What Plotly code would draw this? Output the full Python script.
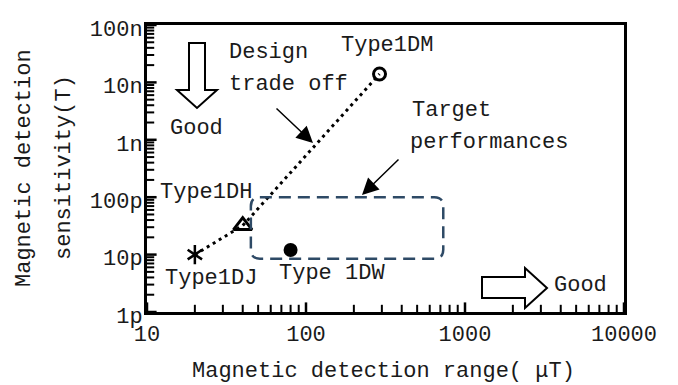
import math
import plotly.graph_objects as go

# Device performance: detection range (µT) vs. detection sensitivity (T)
device_names = ["Type1DJ", "Type1DH", "Type 1DW", "Type1DM"]
detection_range_uT = [20, 40, 80, 290]
sensitivity_T = [1.0e-11, 3.2e-11, 1.2e-11, 1.4e-8]

# Design trade-off curve through the 1DJ / 1DH / 1DM designs
tradeoff_range_uT = [20, 40, 290]
tradeoff_sens_T = [1.0e-11, 3.2e-11, 1.4e-8]

# Target performance window
target_range_uT = [45, 730]
target_sens_T = [8.5e-12, 1.0e-10]

x_tickvals = [10, 100, 1000, 10000]
x_ticktext = ["10", "100", "1000", "10000"]
y_tickvals = [1e-12, 1e-11, 1e-10, 1e-9, 1e-8, 1e-7]
y_ticktext = ["1p", "10p", "100p", "1n", "10n", "100n"]

FONT = "Liberation Mono"
FS = 22
W, H = 678, 385
ML, MR, MT, MB = 147, 54, 25, 73
PW, PH = W - ML - MR, H - MT - MB
X_RANGE = [1, 4]
Y_RANGE = [-12, -7]
X_DEC_PX = PW / (X_RANGE[1] - X_RANGE[0])
Y_DEC_PX = PH / (Y_RANGE[1] - Y_RANGE[0])


def px(x):
    """pixel column -> paper x"""
    return (x - ML) / PW


def py(y):
    """pixel row -> paper y"""
    return (H - MB - y) / PH


def data_px(v):
    return ML + (math.log10(v) - X_RANGE[0]) * X_DEC_PX


def data_py(v):
    return MT + (Y_RANGE[1] - math.log10(v)) * Y_DEC_PX


def minor_logticks(majors):
    # 2..9 times each decade below the last major tick
    return [m * k for m in majors[:-1] for k in range(2, 10)]


def poly_path(points):
    return "M " + " L ".join(f"{px(a):.5f},{py(b):.5f}" for a, b in points) + " Z"


def rounded_rect_path(x0, y0, x1, y1, r):
    # pixel box -> paper path with quadratic rounded corners
    def P(a, b):
        return f"{px(a):.5f},{py(b):.5f}"
    return (
        f"M {P(x0 + r, y0)} L {P(x1 - r, y0)} Q {P(x1, y0)} {P(x1, y0 + r)} "
        f"L {P(x1, y1 - r)} Q {P(x1, y1)} {P(x1 - r, y1)} "
        f"L {P(x0 + r, y1)} Q {P(x0, y1)} {P(x0, y1 - r)} "
        f"L {P(x0, y0 + r)} Q {P(x0, y0)} {P(x0 + r, y0)} Z"
    )


fig = go.Figure()

# inward tick marks as short line markers sitting just inside the axes
x_base = 10 ** X_RANGE[0]
y_base = 10 ** Y_RANGE[0]
for vals, length, width in [(x_tickvals, 8, 2.5), (minor_logticks(x_tickvals), 6, 2)]:
    fig.add_trace(go.Scatter(
        x=vals, y=[y_base * 10 ** (length / 2 / Y_DEC_PX)] * len(vals),
        mode="markers", hoverinfo="skip", showlegend=False, cliponaxis=False,
        marker=dict(symbol="line-ns-open", size=length, color="black",
                    line=dict(color="black", width=width)),
    ))
for vals, length, width in [(y_tickvals, 8, 2.5), (minor_logticks(y_tickvals), 6, 2)]:
    fig.add_trace(go.Scatter(
        x=[x_base * 10 ** (length / 2 / X_DEC_PX)] * len(vals), y=vals,
        mode="markers", hoverinfo="skip", showlegend=False, cliponaxis=False,
        marker=dict(symbol="line-ew-open", size=length, color="black",
                    line=dict(color="black", width=width)),
    ))

# dotted trade-off line
fig.add_trace(go.Scatter(
    x=tradeoff_range_uT, y=tradeoff_sens_T, mode="lines",
    line=dict(color="black", width=3, dash="3px,4px"),
    hoverinfo="skip", showlegend=False,
))

# Type1DJ: six-armed asterisk (two overlaid "y" symbols)
for sym in ["y-up-open", "y-down-open"]:
    fig.add_trace(go.Scatter(
        x=[detection_range_uT[0]], y=[sensitivity_T[0]], mode="markers",
        marker=dict(symbol=sym, size=12, color="black",
                    line=dict(color="black", width=2.5)),
        showlegend=False, name=device_names[0],
    ))

# Type1DH: open triangle
fig.add_trace(go.Scatter(
    x=[detection_range_uT[1]], y=[sensitivity_T[1]], mode="markers",
    marker=dict(symbol="triangle-up-open", size=16, color="black",
                line=dict(color="black", width=3)),
    showlegend=False, name=device_names[1],
))

# Type 1DW: filled circle
fig.add_trace(go.Scatter(
    x=[detection_range_uT[2]], y=[sensitivity_T[2]], mode="markers",
    marker=dict(symbol="circle", size=14, color="black"),
    showlegend=False, name=device_names[2],
))

# Type1DM: open circle
fig.add_trace(go.Scatter(
    x=[detection_range_uT[3]], y=[sensitivity_T[3]], mode="markers",
    marker=dict(symbol="circle-open", size=12, color="black",
                line=dict(color="black", width=3)),
    showlegend=False, name=device_names[3],
))

shapes = []
# target window (dashed rounded box)
bx0, bx1 = data_px(target_range_uT[0]), data_px(target_range_uT[1])
by0, by1 = data_py(target_sens_T[1]), data_py(target_sens_T[0])
shapes.append(dict(
    type="path", xref="paper", yref="paper",
    path=rounded_rect_path(bx0, by0, bx1, by1, 9),
    line=dict(color="#2E4A66", width=2.5, dash="12px,7px"),
))
# hollow "Good" arrows
shapes.append(dict(
    type="path", xref="paper", yref="paper",
    path=poly_path([(189, 43), (205, 43), (205, 90), (217, 90), (197, 108),
                    (177, 90), (189, 90)]),
    line=dict(color="black", width=2), fillcolor="white",
))
shapes.append(dict(
    type="path", xref="paper", yref="paper",
    path=poly_path([(482, 277), (525, 277), (525, 268), (547, 288),
                    (525, 308), (525, 298), (482, 298)]),
    line=dict(color="black", width=2), fillcolor="white",
))

txt = dict(family=FONT, size=FS, color="#1a1a1a")
annotations = []


def label(text, x, y, xanchor="left", **kw):
    annotations.append(dict(
        text=text, xref="paper", yref="paper", x=px(x), y=py(y),
        xanchor=xanchor, yanchor="middle", showarrow=False, font=txt, **kw))


label("Design", 227, 52)
label("trade off", 227, 85)
label("Good", 168, 128)
label("Target", 410, 110)
label("performances", 408, 142)
label("Good", 552, 285)

# device labels placed relative to their markers
dev_offsets = [(-32, 24, "left"), (11, -33, "right"), (-14, 23, "left"), (-41, -29, "left")]
for name, xv, yv, (dx, dy, anc) in zip(device_names, detection_range_uT,
                                       sensitivity_T, dev_offsets):
    label(name, data_px(xv) + dx, data_py(yv) + dy, xanchor=anc)

# axis titles
label("Magnetic detection range( μT)", 383, 371, xanchor="center")
label("Magnetic detection", 24, 168, xanchor="center", textangle=-90)
label("sensitivity(T)", 64, 168, xanchor="center", textangle=-90)

# pointer arrows
for hx, hy, tx, ty in [(313, 143, 275, 107), (362, 195, 400, 158)]:
    annotations.append(dict(
        text="", xref="paper", yref="paper", x=px(hx), y=py(hy),
        ax=tx - hx, ay=ty - hy, showarrow=True, arrowhead=2,
        arrowsize=2.2, arrowwidth=1.5, arrowcolor="black",
    ))

axis_common = dict(
    type="log", showgrid=False, zeroline=False,
    showline=True, linecolor="black", linewidth=3, mirror=True,
    ticks="", tickfont=txt,
)

fig.update_layout(
    width=W, height=H,
    margin=dict(l=ML, r=MR, t=MT, b=MB),
    paper_bgcolor="white", plot_bgcolor="white",
    xaxis=dict(range=X_RANGE, tickmode="array", tickvals=x_tickvals,
               ticktext=x_ticktext, **axis_common),
    yaxis=dict(range=Y_RANGE, tickmode="array", tickvals=y_tickvals,
               ticktext=y_ticktext, ticklabelstandoff=-3, ticklabelshift=3,
               **axis_common),
    shapes=shapes, annotations=annotations,
    showlegend=False,
)

fig.write_html("out.html")
